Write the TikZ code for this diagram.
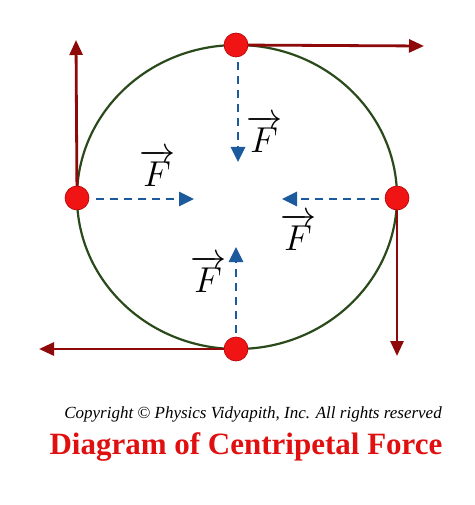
\RequirePackage{fix-cm}
\documentclass[tikz,border=0pt]{standalone}
\usepackage{fontspec}
\setmainfont{Liberation Serif}
\usetikzlibrary{arrows.meta}
\definecolor{ringgreen}{HTML}{2B4A1C}
\definecolor{tanred}{HTML}{8E0A0A}
\definecolor{forceblue}{HTML}{1B5A9C}
\definecolor{dotred}{HTML}{F01414}
\definecolor{titlered}{HTML}{E01010}
\tikzset{
  ball/.style={circle, fill=dotred, draw=red!70!black, line width=0.6pt, minimum size=24pt, inner sep=0pt},
  tangent/.style={draw=tanred, line width=2.8pt, -{Triangle[length=15pt,width=13pt]}},
  force/.style={draw=forceblue, line width=2.8pt, dash pattern=on 8pt off 6pt, -{Triangle[length=15pt,width=14pt]}},
  flabel/.style={inner sep=0pt, font=\fontsize{36}{40}\selectfont},
}
\begin{document}
\begin{tikzpicture}[x=1pt,y=-1pt]
\useasboundingbox (0,0) rectangle (474,505);
% circle path
\draw[ringgreen, line width=2.2pt] (237,197) ellipse [x radius=160, y radius=152];
% coordinates
\coordinate (tt) at (424,46);
\coordinate (lt) at (76,40);
\coordinate (rt) at (397,356);
\coordinate (bt) at (39,349);
\coordinate (tf0) at (238,62);
\coordinate (tf1) at (238,162);
\coordinate (lf0) at (96,199);
\coordinate (lf1) at (194,199);
\coordinate (rf0) at (379,199);
\coordinate (rf1) at (282,199);
\coordinate (bf0) at (236,333);
\coordinate (bf1) at (236,247);
% tangent velocity arrows
\draw[tangent] (236,45) -- (tt);
\draw[tangent] (77,198) -- (lt);
\draw[tangent] (397,198) -- (rt);
\draw[tangent] (236,349) -- (bt);
% dots
\node[ball] (top) at (236,45) {};
\node[ball] (left) at (77,198) {};
\node[ball] (right) at (397,198) {};
\node[ball] (bottom) at (236,349) {};
% centripetal force arrows
\draw[force] (tf0) -- (tf1);
\draw[force] (lf0) -- (lf1);
\draw[force] (rf0) -- (rf1);
\draw[force] (bf0) -- (bf1);
% labels
\node[flabel] (ft) at (264,134) {$\overrightarrow{F}$};
\node[flabel] (fl) at (157,168) {$\overrightarrow{F}$};
\node[flabel] (fr) at (298,232) {$\overrightarrow{F}$};
\node[flabel] (fb) at (208,274) {$\overrightarrow{F}$};
% texts
\node[inner sep=0pt, font=\fontsize{17}{19}\itshape] (copy) at (253,414) {Copyright \textcopyright{} Physics Vidyapith, Inc. All rights reserved};
\node[inner sep=0pt, font=\fontsize{31}{34}\bfseries, text=titlered] (title) at (246,447) {Diagram of Centripetal Force};
\end{tikzpicture}
\end{document}
